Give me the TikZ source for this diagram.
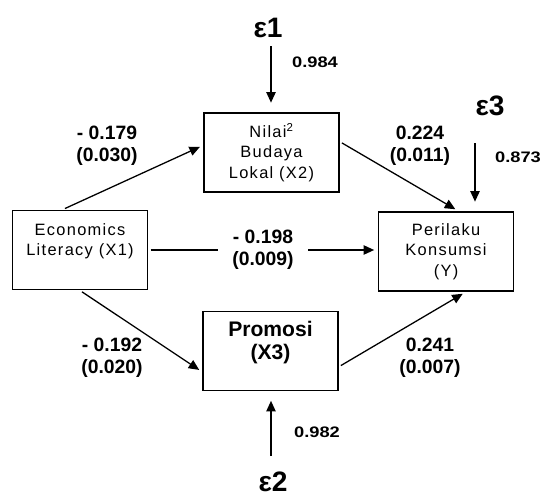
\documentclass[tikz,border=0pt]{standalone}
\usepackage{fontspec}
\setmainfont{Liberation Sans}
\newfontfamily\boxfont[LetterSpace=8]{Liberation Sans}
\newfontfamily\errfont[FakeStretch=1.2]{Liberation Sans}
\usetikzlibrary{arrows.meta, calc}

\begin{document}
\begin{tikzpicture}[x=0.03cm, y=-0.03cm,
    var/.style={rectangle, draw, line width=1.4pt,
                minimum width=4.05cm, minimum height=2.38cm,
                inner sep=0pt, align=center,
                font=\boxfont\fontsize{14}{17.5}\selectfont},
    lbl/.style={align=center, inner sep=1pt,
                font=\bfseries\fontsize{16.5}{19}\selectfont},
    err/.style={inner sep=0pt, font=\bfseries\fontsize{24}{26}\selectfont},
    errval/.style={inner sep=0pt, font=\errfont\bfseries\fontsize{13}{15}\selectfont},
    arr/.style={-{Triangle[length=9pt,width=8pt]}, line width=1.1pt,
                shorten >=3pt, shorten <=2pt},
    errarr/.style={-{Triangle[length=9pt,width=8pt]}, line width=1.1pt,
                   shorten >=8pt}
]
    \useasboundingbox (0,0) rectangle (547,497);

    % variables
    \node[var, text depth=18pt] (x1) at (80,250)
        {Economics\\Literacy (X1)};
    \node[var] (x2) at (271.5,152.5)
        {Nilai\textsuperscript{2}\\Budaya\\Lokal (X2)};
    \node[var] (y) at (446,251.5)
        {Perilaku\\Konsumsi\\(Y)};
    \node[var, text depth=18pt,
          font=\bfseries\fontsize{18}{20}\selectfont] (x3) at (270.5,351)
        {Promosi\\(X3)};

    % error terms
    \node[err] (e1) at (268,28) {ε1};
    \node[err] (e2) at (273,482) {ε2};
    \node[err] (e3) at (490,106) {ε3};
    \node[errval] (v1) at (315,62) {0.984};
    \node[errval] (v2) at (317,432) {0.982};
    \node[errval] (v3) at (518,157) {0.873};
    \coordinate (e1s) at (271,46);
    \coordinate (e2s) at (271,456);
    \coordinate (e3s) at (475,143);

    % path coefficients
    \node[lbl] (p12) at (107,146) {- 0.179\\(0.030)};
    \node[lbl] (p2y) at (420,146) {0.224\\(0.011)};
    \node[lbl] (p13) at (112,358) {- 0.192\\(0.020)};
    \node[lbl] (p3y) at (430,358) {0.241\\(0.007)};

    \draw[arr] (x1.113) -- (x2.174);
    \draw[arr] (x2.9)   -- (y.73);
    \draw[arr] (x1.south) -- (x3.197);
    \draw[arr] (x3.-13) -- (y.-64);
    \draw[arr] (x1.east) -- node[lbl, fill=white, inner xsep=12pt] (p1y)
        {- 0.198\\(0.009)} (x1.east -| y.west);

    \draw[errarr] (e1s) -- (e1s |- x2.north);
    \draw[errarr] (e2s) -- (e2s |- x3.south);
    \draw[errarr] (e3s) -- (e3s |- y.north);
\end{tikzpicture}
\end{document}
